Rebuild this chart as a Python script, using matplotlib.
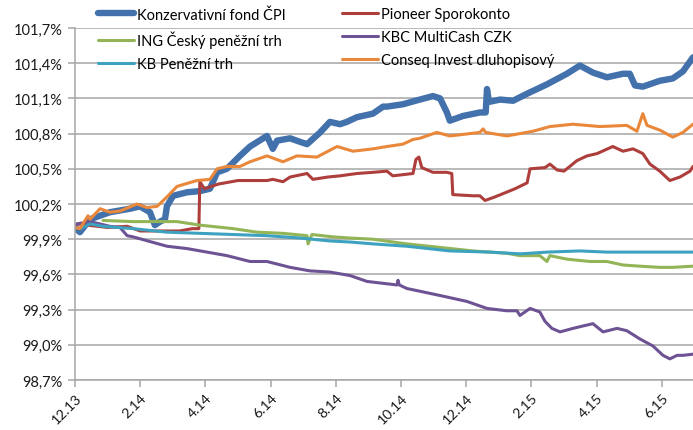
import matplotlib
matplotlib.use('Agg')
import matplotlib.pyplot as plt
from matplotlib.lines import Line2D

plt.rcParams['font.family'] = ['Lato', 'DejaVu Sans']

# x in months since 12.13
x_ticks = [0, 2, 4, 6, 8, 10, 12, 14, 16, 18]
x_labels = ['12.13', '2.14', '4.14', '6.14', '8.14', '10.14', '12.14', '2.15', '4.15', '6.15']
y_ticks = [98.7, 99.0, 99.3, 99.6, 99.9, 100.2, 100.5, 100.8, 101.1, 101.4, 101.7]

cpi_t = [0, 0.15, 0.46, 1.07, 1.69, 1.99, 2.30, 2.45, 2.61, 2.76, 2.82, 3.01, 3.44, 3.83, 4.14, 4.36, 4.66, 5.06, 5.37, 5.89,
         6.07, 6.20, 6.60, 6.90, 7.12, 7.52, 7.82, 8.13, 8.34, 8.65, 9.14, 9.45, 9.57, 10.06, 10.58, 10.98, 11.20, 11.41, 11.50, 11.90,
         12.42, 12.60, 12.64, 12.70, 13.04, 13.44, 13.87, 14.48, 15.09, 15.49, 15.89, 16.32, 16.81, 17.02, 17.18, 17.42, 17.94, 18.34, 18.65, 18.96]
cpi_v = [100.00, 99.96, 100.07, 100.13, 100.16, 100.18, 100.13, 100.02, 100.05, 100.07, 100.18, 100.27, 100.30, 100.31, 100.33, 100.47, 100.50, 100.61, 100.69, 100.78,
         100.67, 100.74, 100.76, 100.73, 100.71, 100.81, 100.90, 100.88, 100.90, 100.94, 100.97, 101.03, 101.03, 101.05, 101.09, 101.12, 101.10, 100.98, 100.91, 100.95,
         100.98, 100.98, 101.18, 101.07, 101.09, 101.08, 101.14, 101.22, 101.31, 101.38, 101.32, 101.28, 101.31, 101.31, 101.21, 101.20, 101.25, 101.27, 101.33, 101.45]

pio_t = [0, 0.06, 1.0, 1.6, 2.0, 2.6, 3.2, 3.6, 3.80, 3.83, 3.97, 4.4, 5.0, 5.89, 6.07, 6.38, 6.60, 7.12, 7.30, 7.76,
         8.13, 8.65, 9.14, 9.57, 9.75, 10.37, 10.46, 10.55, 10.64, 10.98, 11.41, 11.56, 11.59, 12.21, 12.42, 12.58, 12.88, 13.50, 13.87, 13.96,
         14.42, 14.57, 14.79, 15.00, 15.18, 15.40, 15.71, 16.02, 16.50, 16.81, 17.12, 17.42, 17.64, 17.94, 18.25, 18.56, 18.87, 18.96]
pio_v = [100.00, 100.03, 100.00, 100.01, 99.97, 99.97, 99.97, 99.99, 99.99, 100.39, 100.33, 100.37, 100.40, 100.40, 100.41, 100.39, 100.43, 100.46, 100.41, 100.43,
         100.44, 100.46, 100.47, 100.48, 100.44, 100.46, 100.58, 100.60, 100.51, 100.47, 100.47, 100.46, 100.28, 100.27, 100.27, 100.23, 100.26, 100.33, 100.38, 100.50,
         100.51, 100.54, 100.49, 100.48, 100.52, 100.57, 100.61, 100.63, 100.69, 100.65, 100.67, 100.63, 100.54, 100.48, 100.40, 100.43, 100.48, 100.52]

ing_t = [0.86, 1.78, 3.13, 3.83, 4.85, 5.58, 6.38, 7.12, 7.15, 7.27, 7.91, 8.44, 9.14, 10.18, 11.20, 12.21, 13.25, 13.65, 14.26, 14.48,
         14.57, 15.09, 15.80, 16.32, 16.81, 17.33, 17.94, 18.34, 18.96]
ing_v = [100.06, 100.05, 100.05, 100.02, 99.99, 99.96, 99.95, 99.93, 99.86, 99.94, 99.92, 99.91, 99.90, 99.86, 99.83, 99.80, 99.78, 99.76, 99.76, 99.71,
         99.76, 99.73, 99.71, 99.71, 99.68, 99.67, 99.66, 99.66, 99.67]

kbc_t = [0, 0.06, 0.46, 1.07, 1.38, 1.60, 1.78, 2.30, 2.82, 3.44, 4.05, 4.66, 5.37, 5.89, 6.60, 7.21, 7.82, 8.44, 8.96, 9.88,
         9.91, 9.95, 10.18, 11.20, 12.02, 12.64, 13.25, 13.56, 13.65, 13.96, 14.26, 14.42, 14.63, 14.88, 15.28, 15.58, 15.89, 16.20, 16.63, 16.93,
         17.33, 17.73, 18.04, 18.25, 18.47, 18.65, 18.96]
kbc_v = [100.00, 100.03, 100.05, 100.01, 100.00, 99.93, 99.92, 99.88, 99.84, 99.82, 99.79, 99.76, 99.71, 99.71, 99.66, 99.63, 99.62, 99.59, 99.54, 99.51,
         99.55, 99.51, 99.48, 99.42, 99.37, 99.31, 99.29, 99.29, 99.25, 99.31, 99.28, 99.20, 99.14, 99.11, 99.14, 99.16, 99.18, 99.11, 99.14, 99.12,
         99.05, 98.99, 98.91, 98.88, 98.91, 98.91, 98.92]

kb_t = [0, 0.15, 0.46, 0.86, 1.78, 2.82, 3.83, 4.85, 5.89, 6.90, 7.82, 8.44, 9.14, 10.18, 11.50, 12.73, 13.65, 14.48, 15.49, 16.32, 17.33, 18.96]
kb_v = [100.00, 99.99, 100.03, 100.01, 99.99, 99.96, 99.95, 99.94, 99.93, 99.91, 99.885, 99.876, 99.86, 99.84, 99.80, 99.79, 99.775, 99.79, 99.80, 99.79, 99.79, 99.79]

con_t = [0, 0.15, 0.40, 0.46, 0.77, 1.07, 1.38, 1.90, 2.21, 2.52, 2.82, 3.13, 3.74, 4.14, 4.36, 4.66, 5.06, 5.37, 5.89, 6.38,
         6.81, 7.42, 8.04, 8.53, 9.14, 9.57, 10.06, 10.37, 10.58, 11.10, 11.50, 12.42, 12.52, 12.60, 13.25, 14.05, 14.57, 15.28, 16.10, 16.93,
         17.24, 17.42, 17.55, 17.94, 18.34, 18.65, 18.96]
con_v = [100.00, 99.99, 100.10, 100.07, 100.16, 100.13, 100.14, 100.20, 100.17, 100.18, 100.26, 100.35, 100.40, 100.41, 100.50, 100.52, 100.52, 100.56, 100.61, 100.56,
         100.61, 100.60, 100.69, 100.65, 100.67, 100.69, 100.71, 100.75, 100.76, 100.81, 100.78, 100.81, 100.84, 100.81, 100.78, 100.82, 100.86, 100.88, 100.86, 100.87,
         100.82, 100.97, 100.87, 100.83, 100.77, 100.81, 100.88]

series = [
    ('Konzervativní fond ČPI', cpi_t, cpi_v, '#4271AC', 4.6),
    ('Pioneer Sporokonto', pio_t, pio_v, '#AD3E3C', 2.2),
    ('ING Český peněžní trh', ing_t, ing_v, '#93B557', 2.2),
    ('KBC MultiCash CZK', kbc_t, kbc_v, '#6E5394', 2.2),
    ('KB Peněžní trh', kb_t, kb_v, '#3DA2BF', 2.2),
    ('Conseq Invest dluhopisový', con_t, con_v, '#E9883A', 2.2),
]

W, H = 693, 431
fig = plt.figure(figsize=(W / 100, H / 100), dpi=100)
ax = fig.add_axes([75 / W, 1 - 381 / H, (W - 75) / W, (381 - 29) / H])

handles = {}
for name, t, v, c, lw in series:
    ln, = ax.plot(t, v, color=c, lw=lw, solid_capstyle='round', solid_joinstyle='round')
    handles[name] = ln

ax.set_xlim(0, 18.96)
ax.set_ylim(98.7, 101.7)
ax.set_yticks(y_ticks)
ax.set_yticklabels([f'{v:.1f}%'.replace('.', ',') for v in y_ticks], fontsize=10.5, color='#1a1a1a')
ax.set_xticks(x_ticks)
ax.set_xticklabels(x_labels, rotation=45, ha='right', rotation_mode='anchor', fontsize=10.2, color='#1a1a1a')

grid_c = '#A6A6A6'
ax.grid(axis='y', color=grid_c, lw=1.1)
ax.set_axisbelow(True)
for s in ['top', 'right']:
    ax.spines[s].set_visible(False)
for s in ['left', 'bottom']:
    ax.spines[s].set_color(grid_c)
    ax.spines[s].set_linewidth(1.1)
ax.tick_params(axis='both', color=grid_c, width=1.1, length=5)
ax.tick_params(axis='x', pad=3)
ax.tick_params(axis='y', pad=4)

col1 = ['Konzervativní fond ČPI', 'ING Český peněžní trh', 'KB Peněžní trh']
col2 = ['Pioneer Sporokonto', 'KBC MultiCash CZK', 'Conseq Invest dluhopisový']
for names, x0 in [(col1, 98), (col2, 342)]:
    hs = [Line2D([], [], color=handles[n].get_color(), lw=handles[n].get_linewidth(), solid_capstyle='round') for n in names]
    fig.legend(hs, names, loc='upper left', bbox_to_anchor=(x0 / W, 1 - 8 / H),
               frameon=False, fontsize=10.5, handlelength=2.5, handletextpad=0.15,
               labelspacing=0.62, borderpad=0, borderaxespad=0)

fig.savefig('out.png', dpi=100)
